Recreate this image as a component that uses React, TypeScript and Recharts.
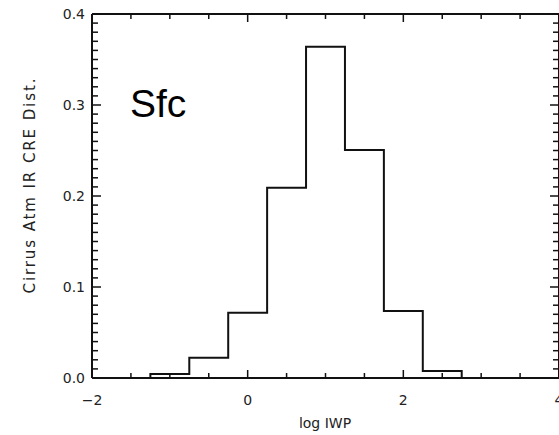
import { ComposedChart, Line, ReferenceLine, XAxis, YAxis } from "recharts"

// histogram bins of log IWP (centres, width 0.5)
const binCenters = [-1, -0.5, 0, 0.5, 1, 1.5, 2, 2.5]
const binFractions = [0.0044, 0.0223, 0.0718, 0.209, 0.364, 0.2505, 0.0736, 0.0077]
const binWidth = 0.5

const xDomain = [-2, 4]
const yDomain = [0, 0.4]
const xMajorTicks = [-2, 0, 2, 4]
const xMinorStep = 0.5
const yMajorTicks = [0, 0.1, 0.2, 0.3, 0.4]
const yMinorStep = 0.01

const W = 559
const H = 435
const LEFT = 92
const TOP = 14
const BOTTOM = 378
const RIGHT = 558

const tickFont = { fontFamily: "DejaVu Sans, sans-serif", fontSize: 14, fill: "#222" }

// outline points for a stepAfter line: up from zero, across each bin, down to zero
const buildOutline = () => {
  const pts: { x: number; y: number }[] = []
  const first = binCenters[0] - binWidth / 2
  pts.push({ x: first, y: 0 })
  binCenters.forEach((c, i) => pts.push({ x: c - binWidth / 2, y: binFractions[i] }))
  const last = binCenters[binCenters.length - 1] + binWidth / 2
  pts.push({ x: last, y: binFractions[binFractions.length - 1] })
  pts.push({ x: last, y: 0 })
  return pts
}

const range = (lo: number, hi: number, step: number) => {
  const out: number[] = []
  const n = Math.round((hi - lo) / step)
  for (let i = 0; i <= n; i++) out.push(Number((lo + i * step).toFixed(4)))
  return out
}

const isMajor = (v: number, majors: number[]) => majors.some((m) => Math.abs(m - v) < 1e-6)

const fmtX = (v: number) => (v < 0 ? `\u2212${Math.abs(v)}` : `${v}`)

// tick lengths in px turned into data units along each axis
const xPerPx = (xDomain[1] - xDomain[0]) / (RIGHT - LEFT)
const yPerPx = (yDomain[1] - yDomain[0]) / (BOTTOM - TOP)

export default function App() {
  const data = buildOutline()
  const xTicks = range(xDomain[0], xDomain[1], xMinorStep)
  const yTicks = range(yDomain[0], yDomain[1], yMinorStep)

  const BottomTick = (props: any) => {
    const { x, y, payload } = props
    const major = isMajor(payload.value, xMajorTicks)
    return (
      <g>
        <line x1={x} x2={x} y1={y} y2={y - (major ? 8 : 5)} stroke="#111" strokeWidth={1.5} />
        {major && (
          <text x={x} y={y + 27} textAnchor="middle" {...tickFont}>
            {fmtX(payload.value)}
          </text>
        )}
      </g>
    )
  }

  const LeftLabel = (props: any) => {
    const { y, payload } = props
    return (
      <text x={LEFT - 7} y={y + 5} textAnchor="end" {...tickFont}>
        {payload.value.toFixed(1)}
      </text>
    )
  }

  return (
    <div style={{ position: "absolute", left: 0, top: 0, width: W, height: H, background: "#fff" }}>
      <ComposedChart
        width={W}
        height={H}
        data={data}
        margin={{ top: TOP, right: W - RIGHT - 1, bottom: 0, left: 0 }}
      >
        <XAxis
          xAxisId="bottom"
          dataKey="x"
          type="number"
          domain={xDomain}
          ticks={xTicks}
          interval={0}
          height={H - BOTTOM}
          tickSize={0}
          tickMargin={0}
          tickLine={false}
          tick={BottomTick}
          axisLine={{ stroke: "#111", strokeWidth: 2 }}
          allowDataOverflow
        />
        <YAxis
          yAxisId="left"
          dataKey="y"
          type="number"
          domain={yDomain}
          ticks={yMajorTicks}
          interval={0}
          width={LEFT}
          tickSize={0}
          tickMargin={0}
          tickLine={false}
          tick={LeftLabel}
          axisLine={{ stroke: "#111", strokeWidth: 2 }}
          allowDataOverflow
        />
        {/* top and right frame edges */}
        <ReferenceLine xAxisId="bottom" yAxisId="left" y={yDomain[1]} stroke="#111" strokeWidth={2} ifOverflow="visible" />
        <ReferenceLine xAxisId="bottom" yAxisId="left" x={xDomain[1]} stroke="#111" strokeWidth={2} ifOverflow="visible" />
        {/* top tick marks */}
        {xTicks.map((v) => (
          <ReferenceLine
            key={`t${v}`}
            xAxisId="bottom"
            yAxisId="left"
            segment={[
              { x: v, y: yDomain[1] },
              { x: v, y: yDomain[1] - (isMajor(v, xMajorTicks) ? 8 : 5) * yPerPx },
            ]}
            stroke="#111"
            strokeWidth={1.5}
            ifOverflow="visible"
          />
        ))}
        {/* left and right tick marks */}
        {yTicks.map((v) => (
          <ReferenceLine
            key={`l${v}`}
            xAxisId="bottom"
            yAxisId="left"
            segment={[
              { x: xDomain[0], y: v },
              { x: xDomain[0] + (isMajor(v, yMajorTicks) ? 9 : 6) * xPerPx, y: v },
            ]}
            stroke="#111"
            strokeWidth={1.5}
            ifOverflow="visible"
          />
        ))}
        {yTicks.map((v) => (
          <ReferenceLine
            key={`r${v}`}
            xAxisId="bottom"
            yAxisId="left"
            segment={[
              { x: xDomain[1], y: v },
              { x: xDomain[1] - (isMajor(v, yMajorTicks) ? 9 : 6) * xPerPx, y: v },
            ]}
            stroke="#111"
            strokeWidth={1.5}
            ifOverflow="visible"
          />
        ))}
        <Line
          xAxisId="bottom"
          yAxisId="left"
          type="stepAfter"
          dataKey="y"
          stroke="#111"
          strokeWidth={2}
          dot={false}
          isAnimationActive={false}
        />
      </ComposedChart>
      <svg width={W} height={H} style={{ position: "absolute", left: 0, top: 0, pointerEvents: "none" }}>
        <text x={130} y={117} fontFamily="Liberation Sans, Arial, sans-serif" fontSize={39} fill="#000">
          Sfc
        </text>
        <text x={325} y={428} textAnchor="middle" {...tickFont}>
          log IWP
        </text>
        <text
          x={0}
          y={0}
          transform="translate(35 186) rotate(-90)"
          textAnchor="middle"
          textLength={215}
          lengthAdjust="spacing"
          {...tickFont}
          fontSize={15}
        >
          Cirrus Atm IR CRE Dist.
        </text>
      </svg>
    </div>
  )
}
